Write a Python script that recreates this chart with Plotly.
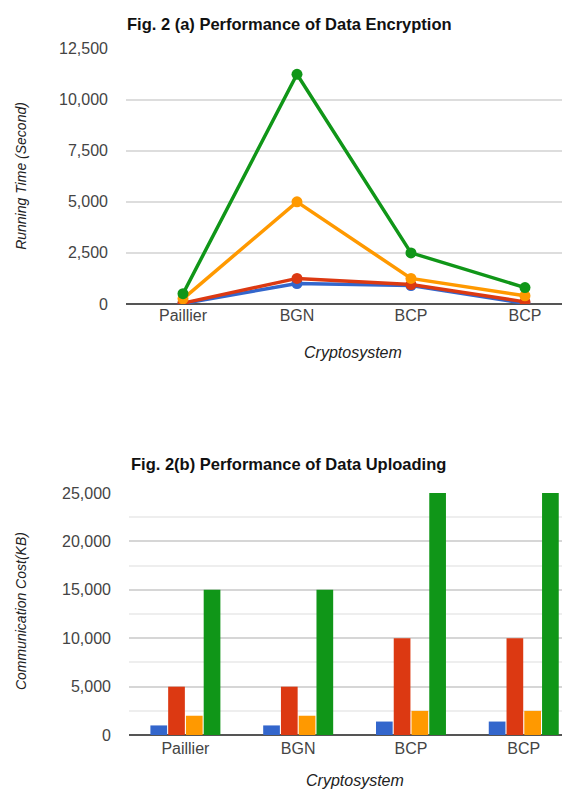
import plotly.graph_objects as go

categories = ["Paillier", "BGN", "BCP", "BCP "]
category_labels = ["Paillier", "BGN", "BCP", "BCP"]

# Fig 2(a) running time (seconds)
enc_blue = [20, 1000, 900, 30]
enc_red = [40, 1250, 950, 100]
enc_orange = [250, 5000, 1250, 400]
enc_green = [500, 11250, 2500, 800]

# Fig 2(b) communication cost (KB)
up_blue = [1000, 1000, 1400, 1400]
up_red = [5000, 5000, 10000, 10000]
up_orange = [2000, 2000, 2500, 2500]
up_green = [15000, 15000, 25000, 25000]

series_names = ["Series 1", "Series 2", "Series 3", "Series 4"]
colors = ["#3366cc", "#dc3912", "#ff9900", "#109618"]

enc_ticks = [0, 2500, 5000, 7500, 10000, 12500]
up_ticks = [0, 5000, 10000, 15000, 20000, 25000]

FONT = "Liberation Sans, Arial, sans-serif"
W, H = 562, 789
OFF = 8

def px_x(x):
    return (x - OFF) / W

def px_y(y):
    # layout pixel (from top of figure) -> paper fraction
    return 1 - y / H

def ref_y(y):
    # reference picture y -> layout pixel
    return (y - 8.4) / 0.978 - OFF

fig = go.Figure()

for name, vals, c in zip(series_names, [enc_blue, enc_red, enc_orange, enc_green], colors):
    fig.add_trace(go.Scatter(x=categories, y=vals, mode="lines+markers", name=name,
                             line=dict(color=c, width=3.5),
                             marker=dict(color=c, size=11),
                             xaxis="x", yaxis="y", showlegend=False))

for name, vals, c in zip(series_names, [up_blue, up_red, up_orange, up_green], colors):
    fig.add_trace(go.Bar(x=categories, y=vals, name=name, marker=dict(color=c, line=dict(width=0)),
                         xaxis="x2", yaxis="y2", showlegend=False))

tickfont = dict(family=FONT, size=16, color="#444444")

fig.update_layout(
    width=W, height=H,
    margin=dict(l=0, r=0, t=0, b=0),
    paper_bgcolor="white", plot_bgcolor="white",
    barmode="group", bargap=0.37, bargroupgap=0.06,
    showlegend=False,
    xaxis=dict(domain=[px_x(126), 1], range=[-0.5, 3.395], anchor="y",
               tickvals=categories, ticktext=category_labels, tickfont=tickfont,
               showgrid=False, showline=False, zeroline=False, ticks="", ticklabelstandoff=0),
    yaxis=dict(domain=[px_y(ref_y(304)), px_y(ref_y(49))], range=[0, 12500], anchor="x",
               tickvals=enc_ticks, tickformat=",", tickfont=tickfont,
               showgrid=True, gridcolor="#dddddd", gridwidth=1.5,
               zeroline=True, zerolinecolor="#555555", zerolinewidth=1.5,
               showline=False, ticks="", ticklabelstandoff=17),
    xaxis2=dict(domain=[px_x(129), 1], range=[-0.5, 3.41], anchor="y2",
                tickvals=categories, ticktext=category_labels, tickfont=tickfont,
                showgrid=False, showline=False, zeroline=False, ticks="", ticklabelstandoff=2),
    yaxis2=dict(domain=[px_y(ref_y(735)), px_y(ref_y(493))], range=[0, 25000], anchor="x2",
                tickvals=up_ticks, tickformat=",", tickfont=tickfont,
                showgrid=True, gridcolor="#d6d6d6", gridwidth=1.5,
                minor=dict(dtick=2500, showgrid=True, gridcolor="#eeeeee", gridwidth=1.5),
                zeroline=True, zerolinecolor="#555555", zerolinewidth=1.5,
                showline=False, ticks="", ticklabelstandoff=17),
)

ann = []
ann.append(dict(text="<b>Fig. 2 (a) Performance of Data Encryption</b>", x=px_x(125), y=px_y(-3),
                xref="paper", yref="paper", xanchor="left", yanchor="top", showarrow=False,
                font=dict(family=FONT, size=16.5, color="#111111")))
ann.append(dict(text="<b>Fig. 2(b) Performance of Data Uploading</b>", x=px_x(129), y=px_y(ref_y(464)),
                xref="paper", yref="paper", xanchor="left", yanchor="middle", showarrow=False,
                font=dict(family=FONT, size=16.5, color="#111111")))
ann.append(dict(text="<i>Running Time (Second)</i>", x=px_x(21), y=px_y(ref_y(176)), textangle=-90,
                xref="paper", yref="paper", xanchor="center", yanchor="middle", showarrow=False,
                font=dict(family=FONT, size=14, color="#222222")))
ann.append(dict(text="<i>Communication Cost(KB)</i>", x=px_x(21), y=px_y(ref_y(611)), textangle=-90,
                xref="paper", yref="paper", xanchor="center", yanchor="middle", showarrow=False,
                font=dict(family=FONT, size=14, color="#222222")))
ann.append(dict(text="<i>Cryptosystem</i>", x=px_x(353), y=px_y(ref_y(353)),
                xref="paper", yref="paper", xanchor="center", yanchor="middle", showarrow=False,
                font=dict(family=FONT, size=16, color="#222222")))
ann.append(dict(text="<i>Cryptosystem</i>", x=px_x(355), y=px_y(min(ref_y(782), 781)),
                xref="paper", yref="paper", xanchor="center", yanchor="middle", showarrow=False,
                font=dict(family=FONT, size=16, color="#222222")))
fig.update_layout(annotations=ann)

fig.write_html("out.html")
